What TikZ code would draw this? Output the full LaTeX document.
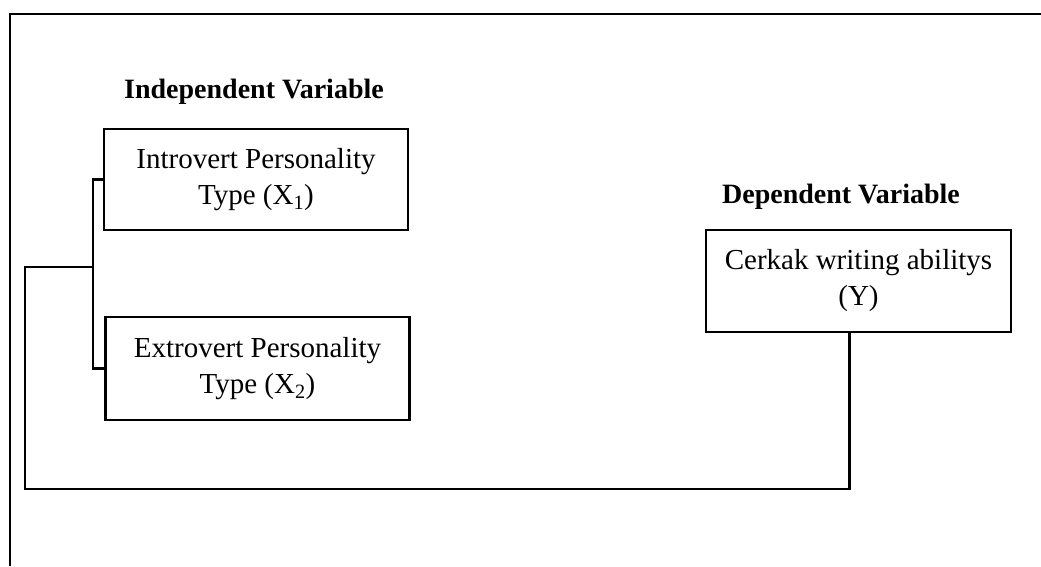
\documentclass[tikz,border=0pt]{standalone}
\usepackage{fontspec}
\setmainfont{Liberation Serif}
\tikzset{
  varbox/.style={draw,line width=2.6pt,minimum width=304pt,minimum height=101pt,align=center,inner sep=0pt,font=\fontsize{29}{36}\selectfont},
  vartitle/.style={font=\fontsize{28}{34}\selectfont\bfseries},
  link/.style={line width=2.6pt}
}
\begin{document}
\begin{tikzpicture}[x=1pt,y=-1pt]
 \useasboundingbox (0,0) rectangle (1041,566);
 \draw[line width=2.8pt](10,566)--(10,14)--(1041,14);
 \node[vartitle] (indep) at (254,92) {Independent Variable};
 \node[varbox] (intro) at (256,179.5) {Introvert Personality\\Type (X\textsubscript{1})};
 \node[varbox,minimum height=103pt] (extro) at (257.5,368.5) {Extrovert Personality\\Type (X\textsubscript{2})};
 \node[vartitle] (dep) at (841,197) {Dependent Variable};
 \node[varbox,minimum width=305pt,minimum height=102pt] (cerkak) at (858.5,281) {Cerkak writing abilitys\\(Y)};
 \coordinate (join) at (93,267);
 \coordinate (corner) at (25,489);
 \draw[link](intro.west)-|(join)|-(extro.west);
 \draw[link](join)-|(corner)-|([xshift=-9pt]cerkak.south);
\end{tikzpicture}
\end{document}
